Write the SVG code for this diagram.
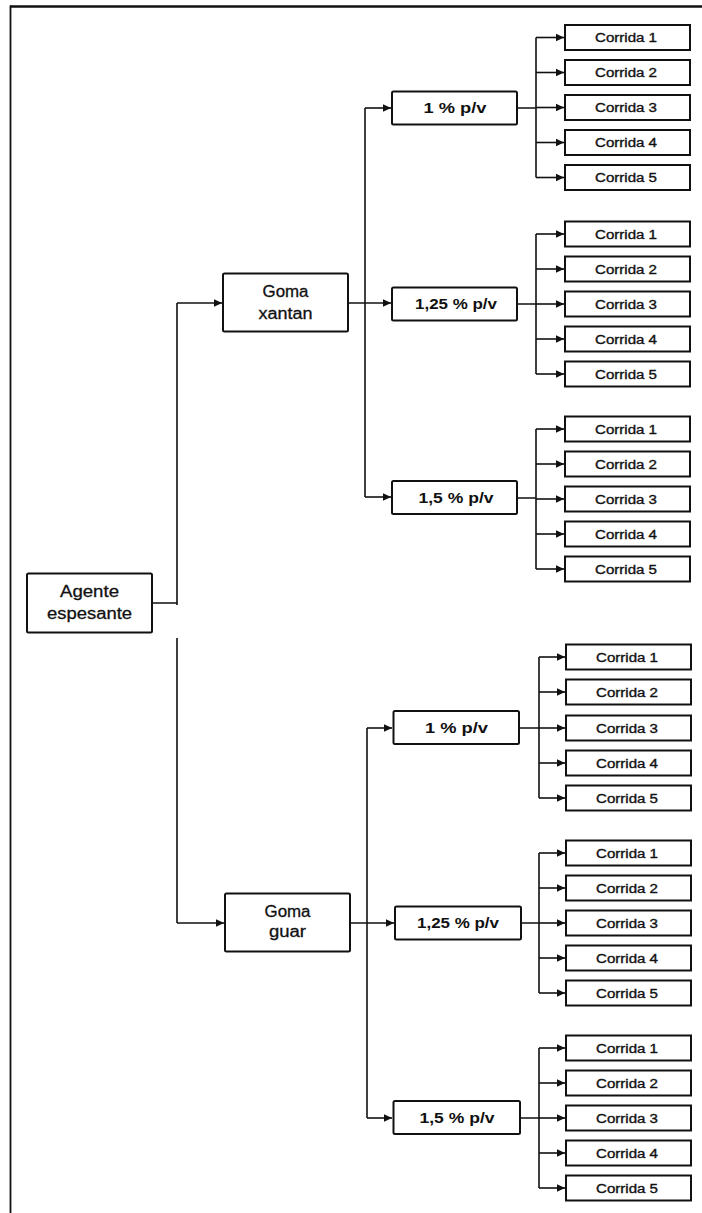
<svg xmlns="http://www.w3.org/2000/svg" width="702" height="1213" viewBox="0 0 702 1213">
<defs>
<style>
.box{fill:#fff;stroke:#111;stroke-width:2}
.ln{fill:none;stroke:#111;stroke-width:1.6}
.t{font-family:"Liberation Sans",Arial,sans-serif;fill:#111;text-anchor:middle}
.big{font-size:16px;stroke:#111;stroke-width:0.3}
.mid{font-size:14.5px;font-weight:bold}
.sm{font-size:12.5px;stroke:#111;stroke-width:0.35}
.frame{stroke:#111;fill:none}
</style>
<marker id="ah" markerWidth="9" markerHeight="9" refX="8" refY="4.5" orient="auto" markerUnits="userSpaceOnUse">
<path d="M0,0.8 L8,4.5 L0,8.2 Z" fill="#111"/>
</marker>
</defs>
<rect width="702" height="1213" fill="#fff"/>
<line class="frame" x1="10" y1="6.5" x2="702" y2="6.5" stroke-width="2.5"/>
<line class="frame" x1="10.5" y1="5.5" x2="10.5" y2="1213" stroke-width="1.8"/>

<g id="connectors">
<path class="ln" d="M152,603 H177 M177,303 V605 M177,638 V923"/>
<path class="ln" d="M177,303 H222" marker-end="url(#ah)"/>
<path class="ln" d="M177,923 H224" marker-end="url(#ah)"/>
<path class="ln" d="M365,108 V497"/>
<path class="ln" d="M348,303 H391" marker-end="url(#ah)"/>
<path class="ln" d="M365,108 H391" marker-end="url(#ah)"/>
<path class="ln" d="M365,497 H391" marker-end="url(#ah)"/>
<path class="ln" d="M367,728 V1118"/>
<path class="ln" d="M350,923 H394" marker-end="url(#ah)"/>
<path class="ln" d="M367,728 H392" marker-end="url(#ah)"/>
<path class="ln" d="M367,1118 H392" marker-end="url(#ah)"/>
<path class="ln" d="M517,108 H536 M536,37.5 V177.5"/>
<path class="ln" d="M536,37.5 H564" marker-end="url(#ah)"/>
<path class="ln" d="M536,72.5 H564" marker-end="url(#ah)"/>
<path class="ln" d="M536,107.5 H564" marker-end="url(#ah)"/>
<path class="ln" d="M536,142.5 H564" marker-end="url(#ah)"/>
<path class="ln" d="M536,177.5 H564" marker-end="url(#ah)"/>
<path class="ln" d="M517,304 H536 M536,234 V374"/>
<path class="ln" d="M536,234 H564" marker-end="url(#ah)"/>
<path class="ln" d="M536,269 H564" marker-end="url(#ah)"/>
<path class="ln" d="M536,304 H564" marker-end="url(#ah)"/>
<path class="ln" d="M536,339 H564" marker-end="url(#ah)"/>
<path class="ln" d="M536,374 H564" marker-end="url(#ah)"/>
<path class="ln" d="M517,498 H536 M536,429 V569"/>
<path class="ln" d="M536,429 H564" marker-end="url(#ah)"/>
<path class="ln" d="M536,464 H564" marker-end="url(#ah)"/>
<path class="ln" d="M536,499 H564" marker-end="url(#ah)"/>
<path class="ln" d="M536,534 H564" marker-end="url(#ah)"/>
<path class="ln" d="M536,569 H564" marker-end="url(#ah)"/>
<path class="ln" d="M519,728 H539 M539,657 V798"/>
<path class="ln" d="M539,657 H565" marker-end="url(#ah)"/>
<path class="ln" d="M539,692 H565" marker-end="url(#ah)"/>
<path class="ln" d="M539,728 H565" marker-end="url(#ah)"/>
<path class="ln" d="M539,763 H565" marker-end="url(#ah)"/>
<path class="ln" d="M539,798 H565" marker-end="url(#ah)"/>
<path class="ln" d="M521,923 H539 M539,853 V993"/>
<path class="ln" d="M539,853 H565" marker-end="url(#ah)"/>
<path class="ln" d="M539,888 H565" marker-end="url(#ah)"/>
<path class="ln" d="M539,923 H565" marker-end="url(#ah)"/>
<path class="ln" d="M539,958 H565" marker-end="url(#ah)"/>
<path class="ln" d="M539,993 H565" marker-end="url(#ah)"/>
<path class="ln" d="M520,1118 H539 M539,1048 V1188"/>
<path class="ln" d="M539,1048 H565" marker-end="url(#ah)"/>
<path class="ln" d="M539,1083 H565" marker-end="url(#ah)"/>
<path class="ln" d="M539,1118 H565" marker-end="url(#ah)"/>
<path class="ln" d="M539,1153 H565" marker-end="url(#ah)"/>
<path class="ln" d="M539,1188 H565" marker-end="url(#ah)"/>
</g>

<g id="agente">
<rect class="box" x="27" y="573.5" width="125" height="59" rx="1.5"/>
<text class="t big" x="89.5" y="597" textLength="59" lengthAdjust="spacingAndGlyphs">Agente</text>
<text class="t big" x="89.5" y="619" textLength="85" lengthAdjust="spacingAndGlyphs">espesante</text>
</g>
<g id="goma-xantan">
<rect class="box" x="223" y="273.5" width="125" height="58" rx="1.5"/>
<text class="t big" x="285.5" y="297" textLength="46" lengthAdjust="spacingAndGlyphs">Goma</text>
<text class="t big" x="285.5" y="319" textLength="54" lengthAdjust="spacingAndGlyphs">xantan</text>
</g>
<g id="goma-guar">
<rect class="box" x="225" y="893.5" width="125" height="58" rx="1.5"/>
<text class="t big" x="287.5" y="917" textLength="46" lengthAdjust="spacingAndGlyphs">Goma</text>
<text class="t big" x="287.5" y="937" textLength="37" lengthAdjust="spacingAndGlyphs">guar</text>
</g>

<g id="xantan-1">
<rect class="box" x="392" y="91.5" width="125" height="33" rx="1.5"/>
<text class="t mid" x="455" y="113" textLength="63" lengthAdjust="spacingAndGlyphs">1 % p/v</text>
</g>
<g id="xantan-125">
<rect class="box" x="392" y="287.5" width="125" height="33" rx="1.5"/>
<text class="t mid" x="456" y="309" textLength="82" lengthAdjust="spacingAndGlyphs">1,25 % p/v</text>
</g>
<g id="xantan-15">
<rect class="box" x="392" y="481" width="125" height="33" rx="1.5"/>
<text class="t mid" x="456" y="503" textLength="75" lengthAdjust="spacingAndGlyphs">1,5 % p/v</text>
</g>
<g id="guar-1">
<rect class="box" x="393.5" y="711" width="125.5" height="33" rx="1.5"/>
<text class="t mid" x="456.5" y="733" textLength="63" lengthAdjust="spacingAndGlyphs">1 % p/v</text>
</g>
<g id="guar-125">
<rect class="box" x="395" y="906.5" width="126" height="33" rx="1.5"/>
<text class="t mid" x="458" y="928" textLength="82" lengthAdjust="spacingAndGlyphs">1,25 % p/v</text>
</g>
<g id="guar-15">
<rect class="box" x="393.5" y="1101" width="126.5" height="33" rx="1.5"/>
<text class="t mid" x="457" y="1123" textLength="75" lengthAdjust="spacingAndGlyphs">1,5 % p/v</text>
</g>

<g id="corridas-xantan-1">
<g id="x1c1"><rect class="box" x="565" y="25" width="125" height="25"/><text class="t sm" x="626" y="42" textLength="62" lengthAdjust="spacingAndGlyphs">Corrida 1</text></g>
<g id="x1c2"><rect class="box" x="565" y="60" width="125" height="25"/><text class="t sm" x="626" y="77" textLength="62" lengthAdjust="spacingAndGlyphs">Corrida 2</text></g>
<g id="x1c3"><rect class="box" x="565" y="95" width="125" height="25"/><text class="t sm" x="626" y="112" textLength="62" lengthAdjust="spacingAndGlyphs">Corrida 3</text></g>
<g id="x1c4"><rect class="box" x="565" y="130" width="125" height="25"/><text class="t sm" x="626" y="147" textLength="62" lengthAdjust="spacingAndGlyphs">Corrida 4</text></g>
<g id="x1c5"><rect class="box" x="565" y="165" width="125" height="25"/><text class="t sm" x="626" y="182" textLength="62" lengthAdjust="spacingAndGlyphs">Corrida 5</text></g>
</g>
<g id="corridas-xantan-125">
<g id="x2c1"><rect class="box" x="565" y="221.5" width="125" height="25"/><text class="t sm" x="626" y="238.5" textLength="62" lengthAdjust="spacingAndGlyphs">Corrida 1</text></g>
<g id="x2c2"><rect class="box" x="565" y="256.5" width="125" height="25"/><text class="t sm" x="626" y="273.5" textLength="62" lengthAdjust="spacingAndGlyphs">Corrida 2</text></g>
<g id="x2c3"><rect class="box" x="565" y="291.5" width="125" height="25"/><text class="t sm" x="626" y="308.5" textLength="62" lengthAdjust="spacingAndGlyphs">Corrida 3</text></g>
<g id="x2c4"><rect class="box" x="565" y="326.5" width="125" height="25"/><text class="t sm" x="626" y="343.5" textLength="62" lengthAdjust="spacingAndGlyphs">Corrida 4</text></g>
<g id="x2c5"><rect class="box" x="565" y="361.5" width="125" height="25"/><text class="t sm" x="626" y="378.5" textLength="62" lengthAdjust="spacingAndGlyphs">Corrida 5</text></g>
</g>
<g id="corridas-xantan-15">
<g id="x3c1"><rect class="box" x="565" y="416.5" width="125" height="25"/><text class="t sm" x="626" y="433.5" textLength="62" lengthAdjust="spacingAndGlyphs">Corrida 1</text></g>
<g id="x3c2"><rect class="box" x="565" y="451.5" width="125" height="25"/><text class="t sm" x="626" y="468.5" textLength="62" lengthAdjust="spacingAndGlyphs">Corrida 2</text></g>
<g id="x3c3"><rect class="box" x="565" y="486.5" width="125" height="25"/><text class="t sm" x="626" y="503.5" textLength="62" lengthAdjust="spacingAndGlyphs">Corrida 3</text></g>
<g id="x3c4"><rect class="box" x="565" y="521.5" width="125" height="25"/><text class="t sm" x="626" y="538.5" textLength="62" lengthAdjust="spacingAndGlyphs">Corrida 4</text></g>
<g id="x3c5"><rect class="box" x="565" y="556.5" width="125" height="25"/><text class="t sm" x="626" y="573.5" textLength="62" lengthAdjust="spacingAndGlyphs">Corrida 5</text></g>
</g>
<g id="corridas-guar-1">
<g id="g1c1"><rect class="box" x="566" y="644.5" width="125" height="25"/><text class="t sm" x="627" y="661.5" textLength="62" lengthAdjust="spacingAndGlyphs">Corrida 1</text></g>
<g id="g1c2"><rect class="box" x="566" y="679.5" width="125" height="25"/><text class="t sm" x="627" y="696.5" textLength="62" lengthAdjust="spacingAndGlyphs">Corrida 2</text></g>
<g id="g1c3"><rect class="box" x="566" y="715.5" width="125" height="25"/><text class="t sm" x="627" y="732.5" textLength="62" lengthAdjust="spacingAndGlyphs">Corrida 3</text></g>
<g id="g1c4"><rect class="box" x="566" y="750.5" width="125" height="25"/><text class="t sm" x="627" y="767.5" textLength="62" lengthAdjust="spacingAndGlyphs">Corrida 4</text></g>
<g id="g1c5"><rect class="box" x="566" y="785.5" width="125" height="25"/><text class="t sm" x="627" y="802.5" textLength="62" lengthAdjust="spacingAndGlyphs">Corrida 5</text></g>
</g>
<g id="corridas-guar-125">
<g id="g2c1"><rect class="box" x="566" y="840.5" width="125" height="25"/><text class="t sm" x="627" y="857.5" textLength="62" lengthAdjust="spacingAndGlyphs">Corrida 1</text></g>
<g id="g2c2"><rect class="box" x="566" y="875.5" width="125" height="25"/><text class="t sm" x="627" y="892.5" textLength="62" lengthAdjust="spacingAndGlyphs">Corrida 2</text></g>
<g id="g2c3"><rect class="box" x="566" y="910.5" width="125" height="25"/><text class="t sm" x="627" y="927.5" textLength="62" lengthAdjust="spacingAndGlyphs">Corrida 3</text></g>
<g id="g2c4"><rect class="box" x="566" y="945.5" width="125" height="25"/><text class="t sm" x="627" y="962.5" textLength="62" lengthAdjust="spacingAndGlyphs">Corrida 4</text></g>
<g id="g2c5"><rect class="box" x="566" y="980.5" width="125" height="25"/><text class="t sm" x="627" y="997.5" textLength="62" lengthAdjust="spacingAndGlyphs">Corrida 5</text></g>
</g>
<g id="corridas-guar-15">
<g id="g3c1"><rect class="box" x="566" y="1035.5" width="125" height="25"/><text class="t sm" x="627" y="1052.5" textLength="62" lengthAdjust="spacingAndGlyphs">Corrida 1</text></g>
<g id="g3c2"><rect class="box" x="566" y="1070.5" width="125" height="25"/><text class="t sm" x="627" y="1087.5" textLength="62" lengthAdjust="spacingAndGlyphs">Corrida 2</text></g>
<g id="g3c3"><rect class="box" x="566" y="1105.5" width="125" height="25"/><text class="t sm" x="627" y="1122.5" textLength="62" lengthAdjust="spacingAndGlyphs">Corrida 3</text></g>
<g id="g3c4"><rect class="box" x="566" y="1140.5" width="125" height="25"/><text class="t sm" x="627" y="1157.5" textLength="62" lengthAdjust="spacingAndGlyphs">Corrida 4</text></g>
<g id="g3c5"><rect class="box" x="566" y="1175.5" width="125" height="25"/><text class="t sm" x="627" y="1192.5" textLength="62" lengthAdjust="spacingAndGlyphs">Corrida 5</text></g>
</g>
</svg>
